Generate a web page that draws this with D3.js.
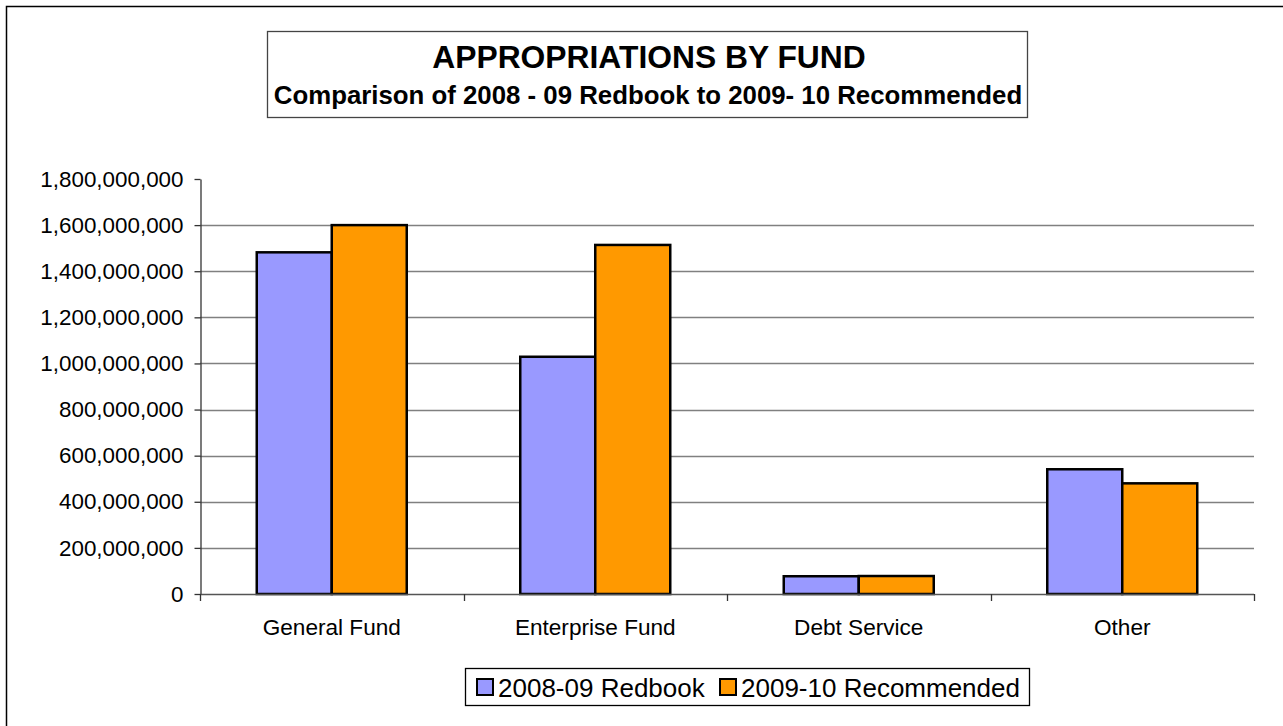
<!DOCTYPE html>
<html>
<head>
<meta charset="utf-8">
<script src="https://cdn.jsdelivr.net/npm/d3@7"></script>
<style>
  html, body { margin: 0; padding: 0; background: #fff; }
  svg { display: block; font-family: "Liberation Sans", Arial, sans-serif; }
</style>
</head>
<body>
<svg id="chart" width="1283" height="726"></svg>
<script>
// Appropriations by fund, two budget years
const categories = ["General Fund", "Enterprise Fund", "Debt Service", "Other"];
const seriesNames = ["2008-09 Redbook", "2009-10 Recommended"];
const redbook2008 = [1482000000, 1029000000, 77000000, 541000000];
const recommended2009 = [1600000000, 1514000000, 78000000, 480000000];
const yTicks = [0, 200000000, 400000000, 600000000, 800000000, 1000000000, 1200000000, 1400000000, 1600000000, 1800000000];
const seriesColors = ["#9999ff", "#ff9900"];

const titleText = "APPROPRIATIONS BY FUND";
const subtitleText = "Comparison of 2008 - 09 Redbook to 2009- 10 Recommended";

const svg = d3.select("#chart");

// outer chart frame
svg.append("rect")
  .attr("x", 6.5).attr("y", 6.5)
  .attr("width", 1300).attr("height", 800)
  .attr("fill", "#fff").attr("stroke", "#000").attr("stroke-width", 1.5);

const plot = { left: 200, right: 1254, top: 179, bottom: 594 };

const x0 = d3.scaleBand()
  .domain(categories)
  .range([plot.left, plot.right])
  .paddingInner(113.5 / 263.5)
  .paddingOuter(113.5 / 263.5 / 2);

const x1 = d3.scaleBand()
  .domain(seriesNames)
  .range([0, x0.bandwidth()]);

const y = d3.scaleLinear()
  .domain([0, 1800000000])
  .range([plot.bottom, plot.top]);

// horizontal gridlines
svg.append("g")
  .selectAll("line")
  .data(yTicks.filter(v => v > 0 && v < 1800000000))
  .join("line")
  .attr("x1", plot.left).attr("x2", plot.right)
  .attr("y1", d => Math.round(y(d)) + 0.5).attr("y2", d => Math.round(y(d)) + 0.5)
  .attr("stroke", "#808080").attr("stroke-width", 1.3);

// y axis
const yAxis = d3.axisLeft(y)
  .tickValues(yTicks)
  .tickFormat(d3.format(","))
  .tickSizeInner(6)
  .tickSizeOuter(0)
  .tickPadding(11);

const gy = svg.append("g")
  .attr("transform", `translate(${plot.left + 0.5},0)`)
  .call(yAxis);
gy.select(".domain").attr("stroke", "#333").attr("stroke-width", 1.3);
gy.selectAll(".tick line").attr("stroke", "#333").attr("stroke-width", 1.3);
gy.selectAll(".tick text")
  .attr("font-size", 22.4)
  .attr("fill", "#000")
  .style("font-family", "'Liberation Sans', Arial, sans-serif");

// bars
const rows = categories.map((c, i) => ({ cat: c, vals: [redbook2008[i], recommended2009[i]] }));
const groups = svg.append("g")
  .selectAll("g")
  .data(rows)
  .join("g")
  .attr("transform", d => `translate(${x0(d.cat)},0)`);

groups.selectAll("rect")
  .data(d => d.vals.map((v, j) => ({ name: seriesNames[j], v, j })))
  .join("rect")
  .attr("x", d => x1(d.name))
  .attr("y", d => y(d.v))
  .attr("width", x1.bandwidth())
  .attr("height", d => y(0) - y(d.v))
  .attr("fill", d => seriesColors[d.j])
  .attr("stroke", "#000")
  .attr("stroke-width", 2.5);

// x axis (category boundaries as ticks)
const boundaries = d3.range(categories.length + 1).map(i => plot.left + i * (plot.right - plot.left) / categories.length);
svg.append("line")
  .attr("x1", plot.left).attr("x2", plot.right)
  .attr("y1", plot.bottom + 0.5).attr("y2", plot.bottom + 0.5)
  .attr("stroke", "#555").attr("stroke-width", 1.5);
svg.append("g")
  .selectAll("line")
  .data(boundaries)
  .join("line")
  .attr("x1", d => Math.round(d) + 0.5).attr("x2", d => Math.round(d) + 0.5)
  .attr("y1", plot.bottom).attr("y2", plot.bottom + 7)
  .attr("stroke", "#333").attr("stroke-width", 1.3);

svg.append("g")
  .selectAll("text")
  .data(categories)
  .join("text")
  .attr("x", d => x0(d) + x0.bandwidth() / 2)
  .attr("y", 635)
  .attr("text-anchor", "middle")
  .attr("font-size", 22.6)
  .attr("fill", "#000")
  .text(d => d);

// title box
svg.append("rect")
  .attr("x", 267.5).attr("y", 31.5)
  .attr("width", 760).attr("height", 86)
  .attr("fill", "#fff").attr("stroke", "#444").attr("stroke-width", 1.3);
svg.append("text")
  .attr("x", 649).attr("y", 68)
  .attr("text-anchor", "middle")
  .attr("font-size", 31.8).attr("font-weight", "bold")
  .text(titleText);
svg.append("text")
  .attr("x", 648).attr("y", 104)
  .attr("text-anchor", "middle")
  .attr("font-size", 25.8).attr("font-weight", "bold")
  .text(subtitleText);

// legend
const legend = svg.append("g");
legend.append("rect")
  .attr("x", 465.5).attr("y", 668.5)
  .attr("width", 564).attr("height", 37)
  .attr("fill", "#fff").attr("stroke", "#000").attr("stroke-width", 1.3);
const legendItems = [
  { name: seriesNames[0], color: seriesColors[0], x: 477 },
  { name: seriesNames[1], color: seriesColors[1], x: 720 }
];
legendItems.forEach(it => {
  legend.append("rect")
    .attr("x", it.x).attr("y", 679)
    .attr("width", 16).attr("height", 16)
    .attr("fill", it.color).attr("stroke", "#000").attr("stroke-width", 2);
  legend.append("text")
    .attr("x", it.x + 21).attr("y", 697)
    .attr("font-size", 26)
    .attr("fill", "#000")
    .text(it.name);
});
</script>
</body>
</html>
